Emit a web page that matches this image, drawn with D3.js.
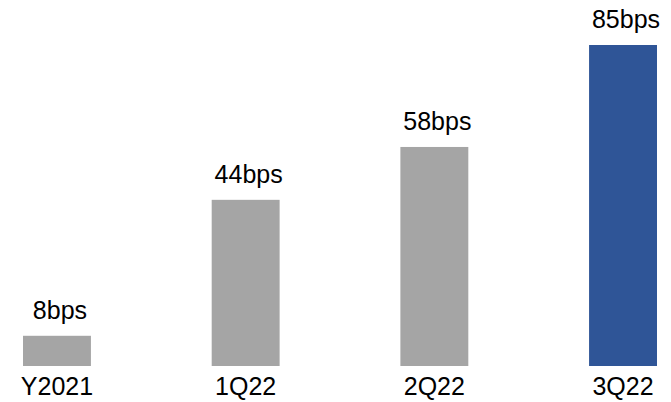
<!DOCTYPE html>
<html>
<head>
<meta charset="utf-8">
<script src="https://cdn.jsdelivr.net/npm/d3@7"></script>
<style>
  html, body { margin: 0; padding: 0; background: #fff; }
  svg { display: block; }
</style>
</head>
<body>
<svg id="chart" width="671" height="402"></svg>
<script>
// Basis-point values per period
const categories = ["Y2021", "1Q22", "2Q22", "3Q22"];
const values = [8, 44, 58, 85];
const valueLabels = ["8bps", "44bps", "58bps", "85bps"];
const barColors = ["#A5A5A5", "#A5A5A5", "#A5A5A5", "#2F5597"];

const svg = d3.select("#chart");
const font = "'Liberation Sans', Arial, sans-serif";

const x = d3.scaleBand()
  .domain(categories)
  .range([23, 657])
  .paddingInner(0.64)
  .paddingOuter(0);

const y = d3.scaleLinear()
  .domain([0, 85])
  .range([366, 45]);

const rows = categories.map((c, i) => ({ c, v: values[i], label: valueLabels[i], color: barColors[i] }));

svg.selectAll("rect.bar")
  .data(rows)
  .join("rect")
  .attr("class", "bar")
  .attr("x", d => x(d.c))
  .attr("y", d => y(d.v))
  .attr("width", x.bandwidth())
  .attr("height", d => y(0) - y(d.v))
  .attr("fill", d => d.color);

svg.selectAll("text.value")
  .data(rows)
  .join("text")
  .attr("class", "value")
  .attr("x", d => x(d.c) + x.bandwidth() / 2 + 3)
  .attr("y", d => y(d.v) - 17)
  .attr("text-anchor", "middle")
  .attr("font-family", font)
  .attr("font-size", 25)
  .attr("fill", "#000")
  .text(d => d.label);

// Category axis without line or ticks
const axis = svg.append("g")
  .attr("transform", `translate(0,${y(0)})`)
  .call(d3.axisBottom(x).tickSize(0).tickPadding(0));
axis.select(".domain").remove();
axis.selectAll("text")
  .attr("y", 29)
  .attr("dy", 0)
  .attr("font-family", font)
  .attr("font-size", 25)
  .attr("fill", "#000");
</script>
</body>
</html>
